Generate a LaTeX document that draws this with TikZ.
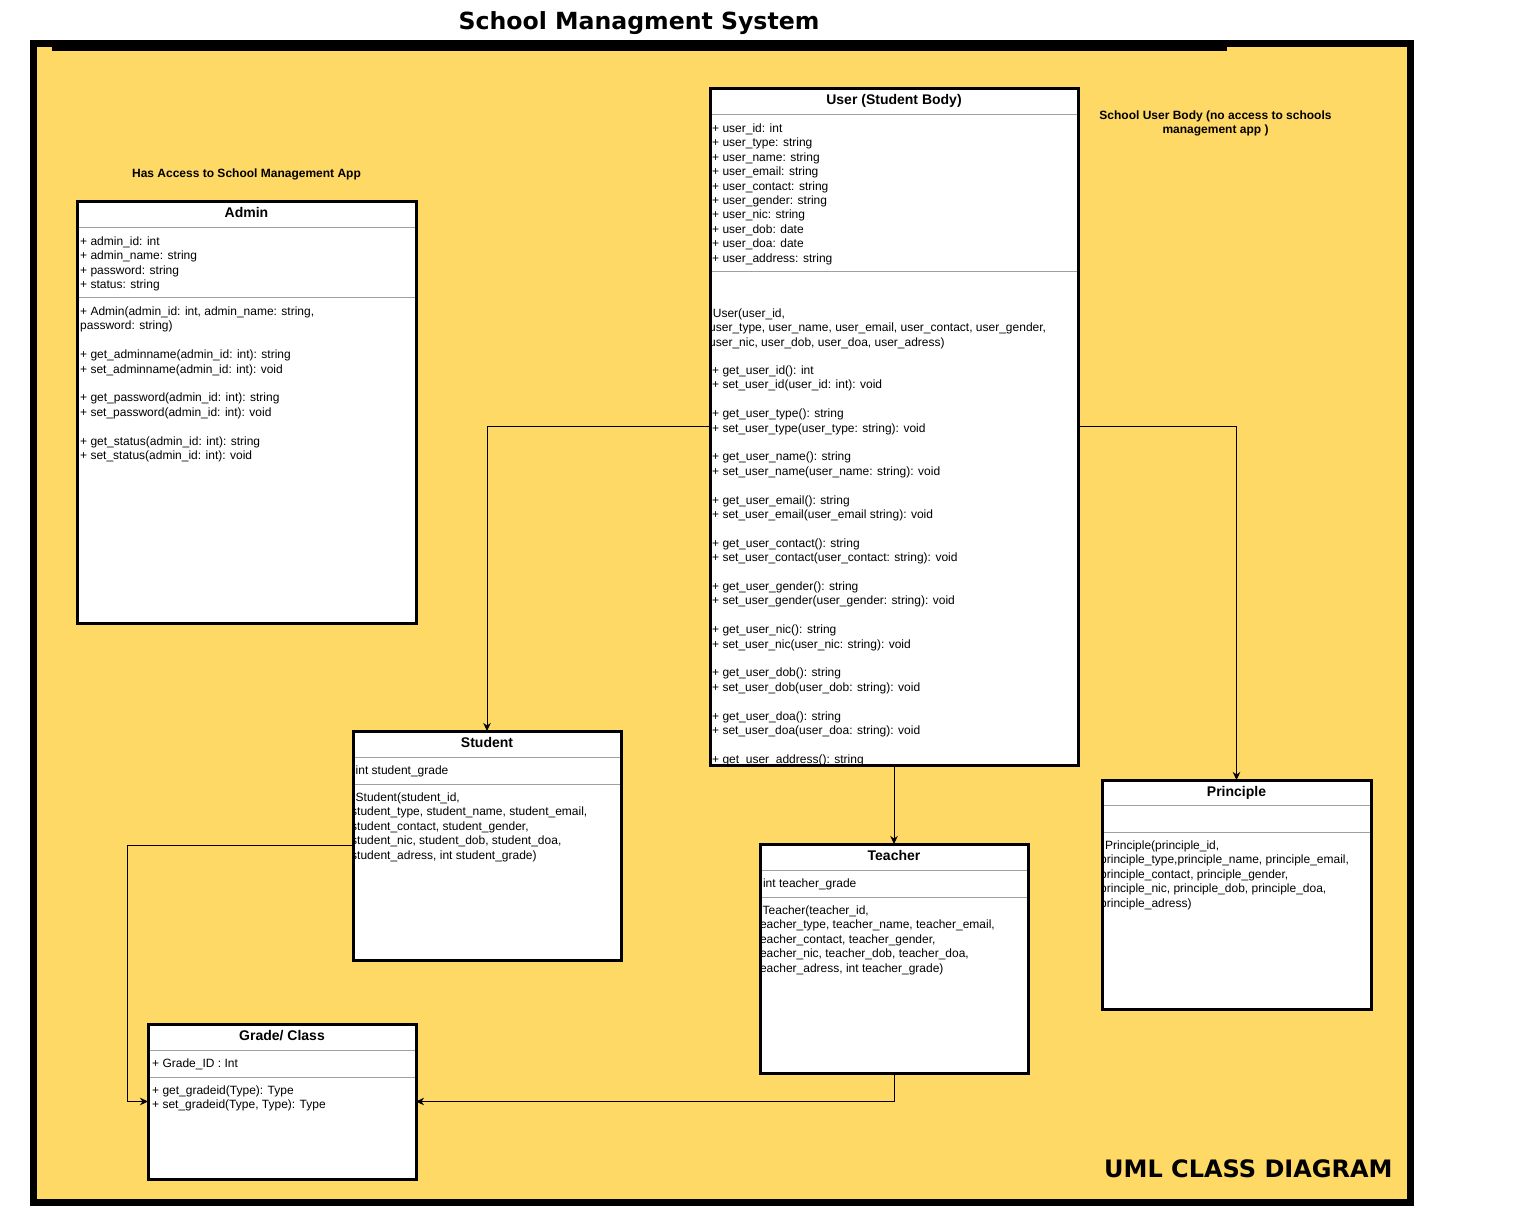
\documentclass[tikz,border=0pt]{standalone}
\usepackage{fontspec}
\setmainfont{Liberation Sans}
\newfontfamily\headfont{DejaVu Sans}
\usetikzlibrary{arrows.meta}
\definecolor{boardyellow}{HTML}{FFD966}
\definecolor{sepgray}{HTML}{A0A0A0}
\tikzset{
  classbox/.style={anchor=north west, fill=white, inner sep=0pt, outer sep=0pt},
  classframe/.style={line width=3pt},
  sepline/.style={draw=sepgray, line width=1pt},
  member/.style={anchor=north west, inner sep=0pt, align=left, font=\fontsize{12}{14.4}\selectfont},
  classtitle/.style={anchor=base, inner sep=0pt, font=\fontsize{14}{16.8}\selectfont\bfseries},
  remark/.style={inner sep=0pt, align=center, font=\fontsize{12}{14.6}\selectfont\bfseries},
  link/.style={line width=1pt, -{Stealth[length=8pt,width=7.5pt,inset=2.5pt]}},
}
\begin{document}
\begin{tikzpicture}[x=1pt,y=-1pt]
        \useasboundingbox (0,0) rectangle (1520,1208);

        % Board and its frame
        \draw [line width=7pt, fill=boardyellow] (33.5,43.5) rectangle (1410.5,1202.5);%
        \fill (52,40) rectangle (1227,50.5);%

        % Headings
        \node [anchor=base, inner sep=0pt, font=\headfont\bfseries\fontsize{23.6}{28}\selectfont] (diagtitle) at (639,29.3) {School Managment System};%
        \node [anchor=base west, inner sep=0pt, font=\headfont\bfseries\fontsize{24}{29}\selectfont] (diagkind) at (1104,1177) {UML CLASS DIAGRAM};%
        \node [remark, anchor=base] (adminnote) at (246.5,177) {Has Access to School Management App};%
        \node [remark, anchor=north] (usernote) at (1215.5,110.3) {School User Body (no access to schools\\ management app )};%

        % Class Admin
        \node [classbox, minimum width=339pt, minimum height=422pt] (admin) at (77,201) {};%
        \begin{scope}
        \clip (admin.north west) rectangle (admin.south east);
        \draw [sepline] (admin.west |- 0,227) -- (admin.east |- 0,227);%
        \draw [sepline] (admin.west |- 0,297) -- (admin.east |- 0,297);%
        \node [member] (adminattr) at (80,236.6) {+ admin\_id: int\\ + admin\_name: string\\ + password: string\\ + status: string};%
        \node [member] (adminops) at (80,306.6) {+ Admin(admin\_id: int, admin\_name: string,\\ password: string)\\ \\
          + get\_adminname(admin\_id: int): string\\ + set\_adminname(admin\_id: int): void\\ \\
          + get\_password(admin\_id: int): string\\ + set\_password(admin\_id: int): void\\ \\
          + get\_status(admin\_id: int): string\\ + set\_status(admin\_id: int): void};%
        \end{scope}
        \node [classtitle] (admintitle) at ([yshift=-16.3pt]admin.north) {Admin};%
        \draw [classframe] (admin.north west) rectangle (admin.south east);%

        % Class User (Student Body)
        \node [classbox, minimum width=368pt, minimum height=677pt] (user) at (710,88) {};%
        \begin{scope}
        \clip (user.north west) rectangle (user.south east);
        \draw [sepline] (user.west |- 0,114) -- (user.east |- 0,114);%
        \draw [sepline] (user.west |- 0,271) -- (user.east |- 0,271);%
        \node [member] (userattr) at (712,123.6) {+ user\_id: int\\ + user\_type: string\\ + user\_name: string\\
          + user\_email: string\\ + user\_contact: string\\ + user\_gender: string\\ + user\_nic: string\\
          + user\_dob: date\\ + user\_doa: date\\ + user\_address: string};%
        \node [member] (userctor) at (709,308.6) {\hspace*{3.7pt}User(user\_id,\\
          user\_type, user\_name, user\_email, user\_contact, user\_gender,\\
          user\_nic, user\_dob, user\_doa, user\_adress)};%
        \node [member] (userops) at (712,365.6) {+ get\_user\_id(): int\\ + set\_user\_id(user\_id: int): void\\ \\
          + get\_user\_type(): string\\ + set\_user\_type(user\_type: string): void\\ \\
          + get\_user\_name(): string\\ + set\_user\_name(user\_name: string): void\\ \\
          + get\_user\_email(): string\\ + set\_user\_email(user\_email string): void\\ \\
          + get\_user\_contact(): string\\ + set\_user\_contact(user\_contact: string): void\\ \\
          + get\_user\_gender(): string\\ + set\_user\_gender(user\_gender: string): void\\ \\
          + get\_user\_nic(): string\\ + set\_user\_nic(user\_nic: string): void\\ \\
          + get\_user\_dob(): string\\ + set\_user\_dob(user\_dob: string): void\\ \\
          + get\_user\_doa(): string\\ + set\_user\_doa(user\_doa: string): void\\ \\
          + get\_user\_address(): string};%
        \end{scope}
        \node [classtitle] (usertitle) at ([yshift=-16.3pt]user.north) {User (Student Body)};%
        \draw [classframe] (user.north west) rectangle (user.south east);%

        % Class Student
        \node [classbox, minimum width=268pt, minimum height=229pt] (student) at (353,731) {};%
        \begin{scope}
        \clip (student.north west) rectangle (student.south east);
        \draw [sepline] (student.west |- 0,757) -- (student.east |- 0,757);%
        \draw [sepline] (student.west |- 0,784) -- (student.east |- 0,784);%
        \node [member] (studentattr) at (355.5,765.6) {int student\_grade};%
        \node [member] (studentctor) at (351,792.6) {\hspace*{4.5pt}Student(student\_id,\\
          student\_type, student\_name, student\_email,\\ student\_contact, student\_gender,\\
          student\_nic, student\_dob, student\_doa,\\ student\_adress, int student\_grade)};%
        \end{scope}
        \node [classtitle] (studenttitle) at ([yshift=-16.3pt]student.north) {Student};%
        \draw [classframe] (student.north west) rectangle (student.south east);%

        % Class Teacher
        \node [classbox, minimum width=268pt, minimum height=229pt] (teacher) at (760,844) {};%
        \begin{scope}
        \clip (teacher.north west) rectangle (teacher.south east);
        \draw [sepline] (teacher.west |- 0,870) -- (teacher.east |- 0,870);%
        \draw [sepline] (teacher.west |- 0,897) -- (teacher.east |- 0,897);%
        \node [member] (teacherattr) at (762.8,878.6) {int teacher\_grade};%
        \node [member] (teacherctor) at (756.5,905.6) {\hspace*{6pt}Teacher(teacher\_id,\\
          teacher\_type, teacher\_name, teacher\_email,\\ teacher\_contact, teacher\_gender,\\
          teacher\_nic, teacher\_dob, teacher\_doa,\\ teacher\_adress, int teacher\_grade)};%
        \end{scope}
        \node [classtitle] (teachertitle) at ([yshift=-16.3pt]teacher.north) {Teacher};%
        \draw [classframe] (teacher.north west) rectangle (teacher.south east);%

        % Class Principle
        \node [classbox, minimum width=269pt, minimum height=229pt] (principle) at (1102,780) {};%
        \begin{scope}
        \clip (principle.north west) rectangle (principle.south east);
        \draw [sepline] (principle.west |- 0,805) -- (principle.east |- 0,805);%
        \draw [sepline] (principle.west |- 0,832) -- (principle.east |- 0,832);%
        \node [member] (principlector) at (1100,840.6) {\hspace*{5pt}Principle(principle\_id,\\
          principle\_type,principle\_name, principle\_email,\\ principle\_contact, principle\_gender,\\
          principle\_nic, principle\_dob, principle\_doa,\\ principle\_adress)};%
        \end{scope}
        \node [classtitle] (principletitle) at ([yshift=-16.3pt]principle.north) {Principle};%
        \draw [classframe] (principle.north west) rectangle (principle.south east);%

        % Class Grade/ Class
        \node [classbox, minimum width=268pt, minimum height=155pt] (grade) at (148,1024) {};%
        \begin{scope}
        \clip (grade.north west) rectangle (grade.south east);
        \draw [sepline] (grade.west |- 0,1050) -- (grade.east |- 0,1050);%
        \draw [sepline] (grade.west |- 0,1077) -- (grade.east |- 0,1077);%
        \node [member] (gradeattr) at (152,1058.6) {+ Grade\_ID : Int};%
        \node [member] (gradeops) at (152,1085.6) {+ get\_gradeid(Type): Type\\ + set\_gradeid(Type, Type): Type};%
        \end{scope}
        \node [classtitle] (gradetitle) at ([yshift=-16.3pt]grade.north) {Grade/ Class};%
        \draw [classframe] (grade.north west) rectangle (grade.south east);%

        % Connectors
        \coordinate (gradebend) at (127,1101.5);%
        \draw [link] (user.west) -| (student.north);%
        \draw [link] (user.east) -| (principle.north);%
        \draw [link] (user.south) -- (teacher.north);%
        \draw [link] (student.west) -| (gradebend) -- (grade.west);%
        \draw [link] (teacher.south) |- (grade.east);%
\end{tikzpicture}
\end{document}
